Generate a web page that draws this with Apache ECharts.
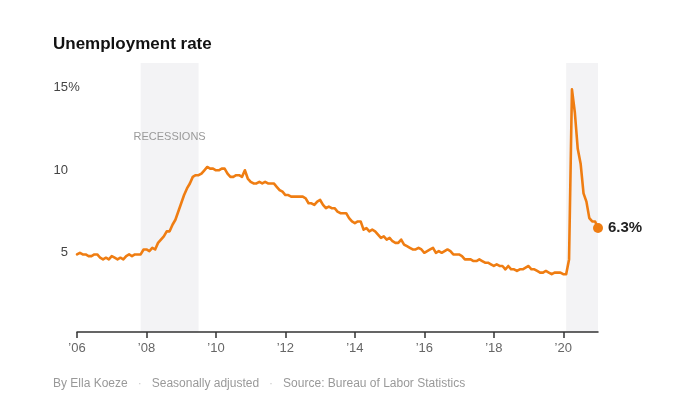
<!DOCTYPE html>
<html>
<head>
<meta charset="utf-8">
<title>Unemployment rate</title>
<script src="https://cdn.jsdelivr.net/npm/echarts@6/dist/echarts.min.js"></script>
<style>
  html, body { margin: 0; padding: 0; background: #fff; }
  #chart { width: 684px; height: 414px; }
</style>
</head>
<body>
<div id="chart"></div>
<script>
// monthly unemployment rate, Jan 2006 .. Jan 2021
var startYear = 2006;
var rates = [
  4.7,4.8,4.7,4.7,4.6,4.6,4.7,4.7,4.5,4.4,4.5,4.4,   // 2006
  4.6,4.5,4.4,4.5,4.4,4.6,4.7,4.6,4.7,4.7,4.7,5.0,   // 2007
  5.0,4.9,5.1,5.0,5.4,5.6,5.8,6.1,6.1,6.5,6.8,7.3,   // 2008
  7.8,8.3,8.7,9.0,9.4,9.5,9.5,9.6,9.8,10.0,9.9,9.9,  // 2009
  9.8,9.8,9.9,9.9,9.6,9.4,9.4,9.5,9.5,9.4,9.8,9.3,   // 2010
  9.1,9.0,9.0,9.1,9.0,9.1,9.0,9.0,9.0,8.8,8.6,8.5,   // 2011
  8.3,8.3,8.2,8.2,8.2,8.2,8.2,8.1,7.8,7.8,7.7,7.9,   // 2012
  8.0,7.7,7.5,7.6,7.5,7.5,7.3,7.2,7.2,7.2,6.9,6.7,   // 2013
  6.6,6.7,6.7,6.2,6.3,6.1,6.2,6.1,5.9,5.7,5.8,5.6,   // 2014
  5.7,5.5,5.4,5.4,5.6,5.3,5.2,5.1,5.0,5.0,5.1,5.0,   // 2015
  4.8,4.9,5.0,5.1,4.8,4.9,4.8,4.9,5.0,4.9,4.7,4.7,   // 2016
  4.7,4.6,4.4,4.4,4.4,4.3,4.3,4.4,4.3,4.2,4.2,4.1,   // 2017
  4.0,4.1,4.0,4.0,3.8,4.0,3.8,3.8,3.7,3.8,3.8,3.9,   // 2018
  4.0,3.8,3.8,3.7,3.6,3.6,3.7,3.6,3.5,3.6,3.6,3.6,   // 2019
  3.5,3.5,4.4,14.7,13.3,11.1,10.2,8.4,7.9,6.9,6.7,6.7, // 2020
  6.3                                                // 2021
];
var tickYears = [2006, 2008, 2010, 2012, 2014, 2016, 2018, 2020];
var yTicks = [5, 10, 15];
// recessions as [start, end] in fractional years
var recessions = [[2007 + 10/12, 2009 + 6/12], [2020 + 1/12, 2021]];

var lineColor = '#ef7d12';
var font = 'Liberation Sans';

var points = rates.map(function (v, i) {
  return [startYear + i / 12, v];
});
var last = points[points.length - 1];

var chart = echarts.init(document.getElementById('chart'));

var option = {
  animation: false,
  backgroundColor: '#fff',
  textStyle: { fontFamily: font },
  title: {
    text: 'Unemployment rate',
    left: 53,
    top: 36,
    padding: 0,
    textStyle: { fontFamily: font, fontSize: 17, fontWeight: 'bold', color: '#121212' }
  },
  grid: { left: 77, right: 86, top: 63, bottom: 82 },
  xAxis: {
    type: 'value',
    min: 2006,
    max: 2021,
    z: 10,
    splitLine: { show: false },
    axisLine: { show: true, lineStyle: { color: '#333', width: 1.5 } },
    axisTick: {
      show: true, length: 6, inside: false,
      customValues: tickYears,
      lineStyle: { color: '#333', width: 1.5 }
    },
    axisLabel: {
      customValues: tickYears,
      margin: 10,
      fontSize: 13,
      color: '#666',
      formatter: function (v) { return '\u2019' + String(v).slice(2); }
    }
  },
  yAxis: {
    type: 'value',
    min: 0,
    max: 16.3,
    splitLine: { show: false },
    axisLine: { show: false },
    axisTick: { show: false },
    axisLabel: {
      customValues: yTicks,
      margin: -3,
      padding: [6, 0, 0, 0],
      fontSize: 13,
      color: '#444',
      formatter: function (v) {
        return '{n|' + v + '}{p|' + (v === 15 ? '%' : ' ') + '}';
      },
      rich: {
        n: { fontSize: 13, color: '#444', fontFamily: font },
        p: { fontSize: 13, color: '#444', fontFamily: font, width: 12, align: 'left' }
      }
    }
  },
  series: [
    {
      type: 'line',
      data: points,
      showSymbol: false,
      symbol: 'none',
      lineStyle: { color: lineColor, width: 2.6, join: 'round', cap: 'round' },
      z: 3,
      markArea: {
        silent: true,
        itemStyle: { color: '#f3f3f5' },
        label: { show: false },
        data: recessions.map(function (r, i) {
          return [
            {
              xAxis: r[0],
              label: i === 0 ? {
                show: true,
                formatter: 'RECESSIONS',
                position: ['50%', 74],
                align: 'center',
                verticalAlign: 'middle',
                color: '#999',
                fontSize: 11,
                fontFamily: font
              } : { show: false }
            },
            { xAxis: r[1] }
          ];
        })
      }
    },
    {
      type: 'scatter',
      data: [last],
      symbolSize: 10,
      itemStyle: { color: lineColor, opacity: 1 },
      z: 4,
      label: {
        show: true,
        position: 'right',
        distance: 5,
        formatter: function (p) { return p.value[1].toFixed(1) + '%'; },
        fontSize: 15,
        fontWeight: 'bold',
        color: '#222',
        fontFamily: font
      }
    }
  ],
  graphic: [
    {
      type: 'text',
      left: 53,
      top: 378,
      style: {
        text: 'By Ella Koeze{d|   \u00b7   }Seasonally adjusted{d|   \u00b7   }Source: Bureau of Labor Statistics',
        fill: '#999',
        fontSize: 12,
        fontFamily: font,
        rich: {
          d: { fill: '#ccc', fontSize: 12, fontFamily: font }
        }
      }
    }
  ]
};

chart.setOption(option);
</script>
</body>
</html>
